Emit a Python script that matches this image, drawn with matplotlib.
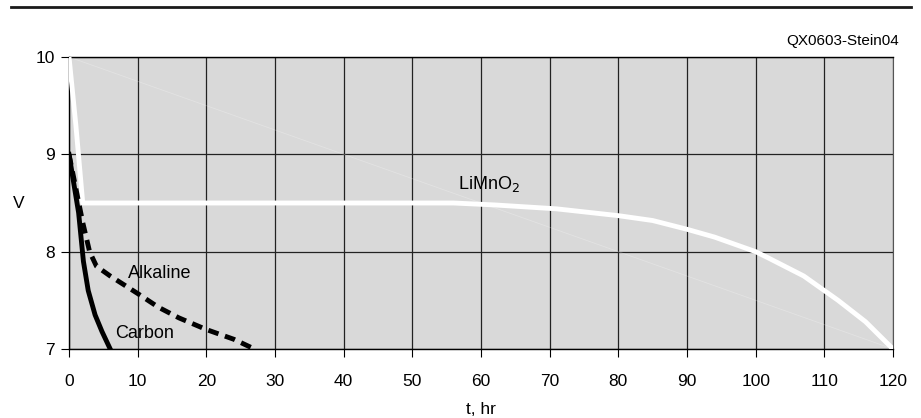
import matplotlib
matplotlib.use("Agg")
import matplotlib.pyplot as plt
from matplotlib.lines import Line2D

plt.rcParams["font.family"] = ["Liberation Sans", "DejaVu Sans"]

# data
carbon_t = [0, 0.7, 1.4, 2.1, 2.8, 3.8, 4.8, 6.0]
carbon_v = [9.0, 8.7, 8.4, 7.9, 7.6, 7.35, 7.18, 7.0]

alkaline_t = [0, 1, 2, 3, 4, 6, 8, 10, 13, 16, 20, 24, 27]
alkaline_v = [9.0, 8.65, 8.3, 8.0, 7.85, 7.75, 7.66, 7.57, 7.43, 7.32, 7.2, 7.1, 7.0]

limno2_t = [0, 1, 2, 10, 30, 56, 62, 71, 80, 85, 90, 94, 100, 102, 107, 112, 116, 120]
limno2_v = [10.0, 9.3, 8.5, 8.5, 8.5, 8.5, 8.48, 8.44, 8.37, 8.32, 8.23, 8.15,
            8.0, 7.93, 7.75, 7.5, 7.28, 7.0]

x_ticks = list(range(0, 121, 10))
y_ticks = [7, 8, 9, 10]

fig = plt.figure(figsize=(9.21, 4.18), dpi=100)
ax = fig.add_axes([69 / 921, 69 / 418, 824 / 921, 292 / 418])
ax.set_facecolor("#d9d9d9")

# faint diagonal line seen in the plot area
ax.plot([0, 120], [10, 7], color="white", lw=0.6, alpha=0.25, zorder=2)

ax.plot(limno2_t, limno2_v, color="white", lw=3.5, solid_joinstyle="round", zorder=3)
ax.plot(alkaline_t, alkaline_v, color="black", lw=3.5, ls=(0, (2.2, 1.4)), zorder=4)
ax.plot(carbon_t, carbon_v, color="black", lw=3.5, zorder=5)

ax.text(61.2, 8.70, "LiMnO$_2$", fontsize=13, ha="center", va="center")
ax.text(8.6, 7.78, "Alkaline", fontsize=13, ha="left", va="center")
ax.text(6.7, 7.16, "Carbon", fontsize=13, ha="left", va="center")

ax.set_xlim(0, 120)
ax.set_ylim(7, 10)
ax.set_xticks(x_ticks)
ax.set_yticks(y_ticks)
ax.tick_params(labelsize=12.5, length=6, width=0.8, direction="out", color="black", pad=12)
ax.tick_params(axis="y", pad=4)
ax.grid(True, color="#222222", lw=0.9)
ax.set_axisbelow(True)
for s in ["left", "bottom", "top"]:
    ax.spines[s].set_color("black")
    ax.spines[s].set_linewidth(1.0)
ax.spines["right"].set_color("#555555")
ax.spines["right"].set_linewidth(0.8)

ax.set_xlabel("t, hr", fontsize=12.5, labelpad=9)
ax.set_ylabel("V", fontsize=12.5, rotation=0, labelpad=12, va="center")

fig.text(899 / 921, 1 - 41 / 418, "QX0603-Stein04", fontsize=11, ha="right", va="center")
fig.add_artist(Line2D([11 / 921, 911 / 921], [1 - 7 / 418, 1 - 7 / 418],
                      color="#1a1a1a", lw=2.0, transform=fig.transFigure))

plt.savefig("out.png", dpi=100)
